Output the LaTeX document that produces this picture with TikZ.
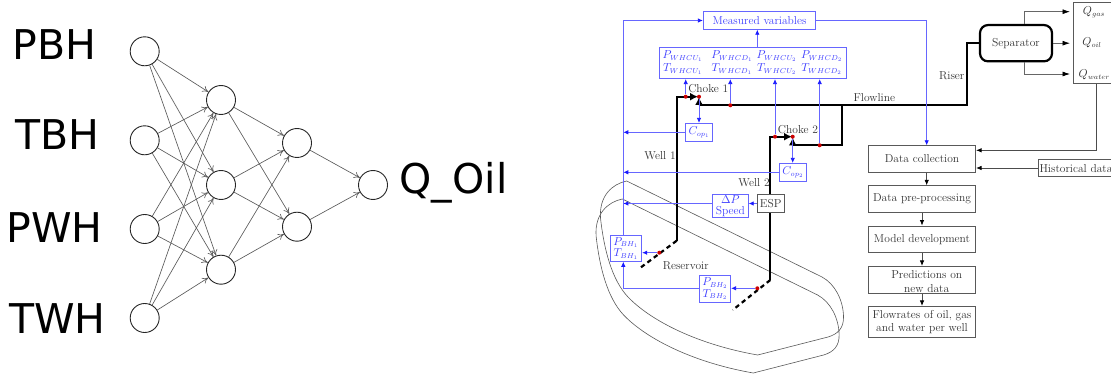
\documentclass[tikz,border=0pt]{standalone}
\usepackage{fix-cm}
\usepackage{fontspec}
\newfontfamily\labfont{DejaVu Sans}
\DeclareMathSizes{11.5}{11.5}{7.2}{5.2}
\usetikzlibrary{arrows.meta}
\tikzset{
 neuron/.style={circle,draw=black!85,line width=0.9pt,minimum size=29pt,inner sep=0pt},
 syn/.style={draw=black!65,line width=0.65pt,-{To[length=6pt,width=6.5pt]}},
 biglab/.style={font=\labfont\fontsize{41}{44}\selectfont,text=black,inner sep=0pt,anchor=base},
 txt/.style={font=\fontsize{11.5}{13.4}\selectfont,inner sep=0pt,align=center,text=black!80},
 btxt/.style={txt,text=blue!75},
 bbox/.style={draw=blue!60,line width=0.8pt,inner sep=0pt,font=\fontsize{11.5}{13.4}\selectfont,align=center,text=blue!75},
 kbox/.style={draw=black!65,line width=0.8pt,inner sep=0pt,font=\fontsize{11.5}{13.4}\selectfont,align=center,text=black!80},
 bl/.style={draw=blue!60,line width=0.8pt},
 bla/.style={bl,-{Latex[length=5pt,width=4.5pt,color=blue!90]}},
 ka/.style={draw=black!70,line width=0.75pt,-{Latex[length=5.5pt,width=4.5pt,black]}},
 kaa/.style={draw=black!60,line width=0.75pt,-{Latex[length=7.5pt,width=5pt,black]}},
 pipe/.style={draw=black,line width=2.2pt,line join=miter},
 pipea/.style={pipe,-{Latex[length=8pt,width=8pt]}},
 wellend/.style={draw=black,line width=2.2pt,dash pattern=on 4.5pt off 3.5pt},
 dot/.style={circle,fill=red!80!black,draw=none,minimum size=4pt,inner sep=0pt},
 res/.style={draw=black!65,line width=0.6pt},
 respath/.pic={\path[res] (626.7,181) -- (822,277) .. controls (835,284) and (843,300) .. (843.5,316) .. controls (844,328) and (838,334) .. (828,337) -- (757.7,355) .. controls (700,345) and (652,322) .. (628,297) .. controls (612,280) and (604,250) .. (600.5,218) .. controls (599,196) and (612,184) .. (626.7,181) -- cycle;}
}
\begin{document}
\begin{tikzpicture}[x=1pt,y=-1pt]
\path[use as bounding box] (0,0) rectangle (1111,374);
% ---- network
\node[biglab] (lp) at (54.3,59.3) {PBH};
\node[biglab] (lt) at (57.5,150) {TBH};
\node[biglab] (lw) at (54.7,242.3) {PWH};
\node[biglab] (lv) at (57.5,333.3) {TWH};
\node[biglab] (lq) at (453.5,193.3) {Q\_Oil};
\node[neuron] (i1) at (144.7,51.3) {};
\node[neuron] (i2) at (144.7,140.3) {};
\node[neuron] (i3) at (144.7,229) {};
\node[neuron] (i4) at (144.7,318) {};
\node[neuron] (h1) at (221,100) {};
\node[neuron] (h2) at (221,185) {};
\node[neuron] (h3) at (221,269.7) {};
\node[neuron] (g1) at (297,143) {};
\node[neuron] (g2) at (297,226.7) {};
\node[neuron] (o) at (373,185) {};
\foreach \a in {i1,i2,i3,i4}{\foreach \b in {h1,h2,h3}{\draw[syn] (\a) -- (\b);}}
\foreach \a in {h1,h2,h3}{\foreach \b in {g1,g2}{\draw[syn] (\a) -- (\b);}}
\foreach \a in {g1,g2}{\draw[syn] (\a) -- (o);}
% ---- reservoir
\pic at (0,0) {respath};
\pic at (-4.4,18) {respath};
\node[txt] (resl) at (685.7,265.7) {Reservoir};
% ---- boxes
\node[bbox,minimum width=112.4pt,minimum height=17.6pt] (meas) at (759.5,20.5) {Measured variables};
\node[bbox,minimum width=187pt,minimum height=31.4pt] (pbox) at (752.8,63) {};
\node[btxt] (p1) at (682.7,62.7) {$P_{WHCU_1}$\\$T_{WHCU_1}$};
\node[btxt] (p2) at (732,62.7) {$P_{WHCD_1}$\\$T_{WHCD_1}$};
\node[btxt] (p3) at (776.7,62.7) {$P_{WHCU_2}$\\$T_{WHCU_2}$};
\node[btxt] (p4) at (821.7,62.7) {$P_{WHCD_2}$\\$T_{WHCD_2}$};
\node[bbox,minimum width=27pt,minimum height=18pt] (cop1) at (699.2,132.3) {$C_{op_1}$};
\node[bbox,minimum width=27.4pt,minimum height=18pt] (cop2) at (793,172.3) {$C_{op_2}$};
\node[bbox,minimum width=36pt,minimum height=22.3pt] (dp) at (730.3,205.9) {$\Delta P$\\[-2pt]Speed};
\node[bbox,minimum width=31.7pt,minimum height=26.3pt] (pb1) at (625.9,248.2) {$P_{BH_1}$\\[-2pt]$T_{BH_1}$};
\node[bbox,minimum width=31.4pt,minimum height=27pt] (pb2) at (715,288.8) {$P_{BH_2}$\\[-2pt]$T_{BH_2}$};
% ---- named points
\coordinate (lx) at (623.3,20.5);
\coordinate (w1t) at (676.7,96.7);
\coordinate (w1b) at (676.7,240.7);
\coordinate (w1e) at (638.3,269.3);
\coordinate (w2t) at (770.3,136.7);
\coordinate (w2b) at (770.3,280);
\coordinate (w2e) at (732.7,310);
\coordinate (ch1) at (698,96.7);
\coordinate (ch2) at (792,136.7);
\coordinate (fl0) at (699,105.3);
\coordinate (fl1) at (966.7,105.3);
\coordinate (fl2) at (966.7,42.7);
\coordinate (br0) at (842.3,105.3);
\coordinate (br1) at (842.3,145.3);
\coordinate (br2) at (792.7,145.3);
\coordinate (m0) at (757.3,47.3);
% ---- pipes
\draw[pipea] (w1b) -- (w1t) -- (ch1);
\draw[wellend] (w1b) -- (w1e);
\draw[pipea] (w2b) -- (w2t) -- (ch2);
\draw[wellend] (w2b) -- (w2e);
\node[kbox,rounded corners=8pt,draw=black,line width=2.2pt,minimum width=72pt,minimum height=36.3pt] (sep) at (1016,43.2) {Separator};
\draw[pipe] (sep.west |- fl2) -- (fl2) -- (fl1) -- (fl0);
\draw[pipea] (fl0) -- (699,97);
\draw[pipe] (br0) -- (br1) -- (br2);
\draw[pipea] (br2) -- (792.7,137.5);
\node[txt] (ch1l) at (708.3,89) {Choke 1};
\node[txt] (ch2l) at (798,129.3) {Choke 2};
\node[txt] (w1l) at (660,155.7) {Well 1};
\node[txt] (w2l) at (754,182.3) {Well 2};
\node[txt] (fll) at (874.3,97.7) {Flowline};
\node[txt] (ril) at (951.7,75.3) {Riser};
\node[kbox,fill=white,minimum width=26.7pt,minimum height=17.6pt] (esp) at (770.7,203.5) {ESP};
% ---- red dots
\node[dot] (d1) at (685.7,96.7) {};
\node[dot] (d2) at (699,96.7) {};
\node[dot] (d3) at (730.3,105.3) {};
\node[dot] (d4) at (775,136.7) {};
\node[dot] (d5) at (792.7,136.7) {};
\node[dot] (d6) at (819.7,145.3) {};
\node[dot] (d7) at (659.3,252.7) {};
\node[dot] (d8) at (757.3,288.3) {};
% ---- blue signals
\draw[bla] (d1) -- (d1 |- pbox.south);
\draw[bla] (d3) -- (d3 |- pbox.south);
\draw[bla] (d4) -- (d4 |- pbox.south);
\draw[bla] (d6) -- (d6 |- pbox.south);
\draw[bla] (m0) -- (m0 |- meas.south);
\draw[bla] (d2) -- (d2 |- cop1.north);
\draw[bla] (d5) -- (d5 |- cop2.north);
\draw[bla] (cop1.west) -- (cop1.west -| lx);
\draw[bla] (cop2.west) -- (cop2.west -| lx);
\draw[bla] (esp.west) -- (esp.west -| dp.east);
\draw[bla] (dp.west |- esp.west) -- (esp.west -| lx);
\draw[bla] (lx |- pb1.north) -- (lx) -- (meas.west);
\draw[bla] (d7) -- (d7 -| pb1.east);
\draw[bla] (d8) -- (d8 -| pb2.east);
\draw[bla] (d8 -| pb2.west) -- (d8 -| lx) -- (lx |- pb1.south);
\coordinate (dcin) at (926.7,145.3);
\draw[bla] (meas.east) -| (dcin);
% ---- right column
\node[kbox,minimum width=38.6pt,minimum height=80.6pt] (qb) at (1093,43) {};
\node[txt] (qg) at (1094,12.3) {$Q_{gas}$};
\node[txt] (qo) at (1092,43) {$Q_{oil}$};
\node[txt] (qw) at (1094.3,75) {$Q_{water}$};
\coordinate (sgx) at (1024.3,11.7);
\coordinate (swx) at (1024.3,74);
\draw[kaa] (sgx |- sep.north) -- (sgx) -- (1070,11.7);
\draw[kaa] (sep.east) -- (1070,43.2);
\draw[kaa] (swx |- sep.south) -- (swx) -- (1070,74);
\node[kbox,minimum width=107.4pt,minimum height=27pt] (dc) at (922,158.8) {Data collection};
\node[kbox,minimum width=107.4pt,minimum height=26.6pt] (pre) at (922,199) {Data pre-processing};
\node[kbox,minimum width=107.4pt,minimum height=26.7pt] (mod) at (922,239.3) {Model development};
\node[kbox,minimum width=107.4pt,minimum height=27pt] (pred) at (922,279.8) {};
\node[txt] (predt) at (926.7,281.7) {Predictions on\\new data};
\node[kbox,minimum width=107.4pt,minimum height=31pt] (flo) at (922,321.8) {Flowrates of oil, gas\\and water per well};
\node[kbox,minimum width=75.6pt,minimum height=17.4pt] (hist) at (1076.1,168) {};
\node[txt] (histt) at (1076,169) {Historical data};
\coordinate (qout) at (1096.7,150.3);
\draw[ka] (qout |- qb.south) -- (qout) -- (qout -| dc.east);
\draw[ka] (hist.west) -- (hist.west -| dc.east);
\draw[ka] (dcin |- dc.south) -- (dcin |- pre.north);
\draw[ka] (pre.south) -- (mod.north);
\draw[ka] (mod.south) -- (pred.north);
\draw[ka] (pred.south) -- (flo.north);
\end{tikzpicture}
\end{document}
